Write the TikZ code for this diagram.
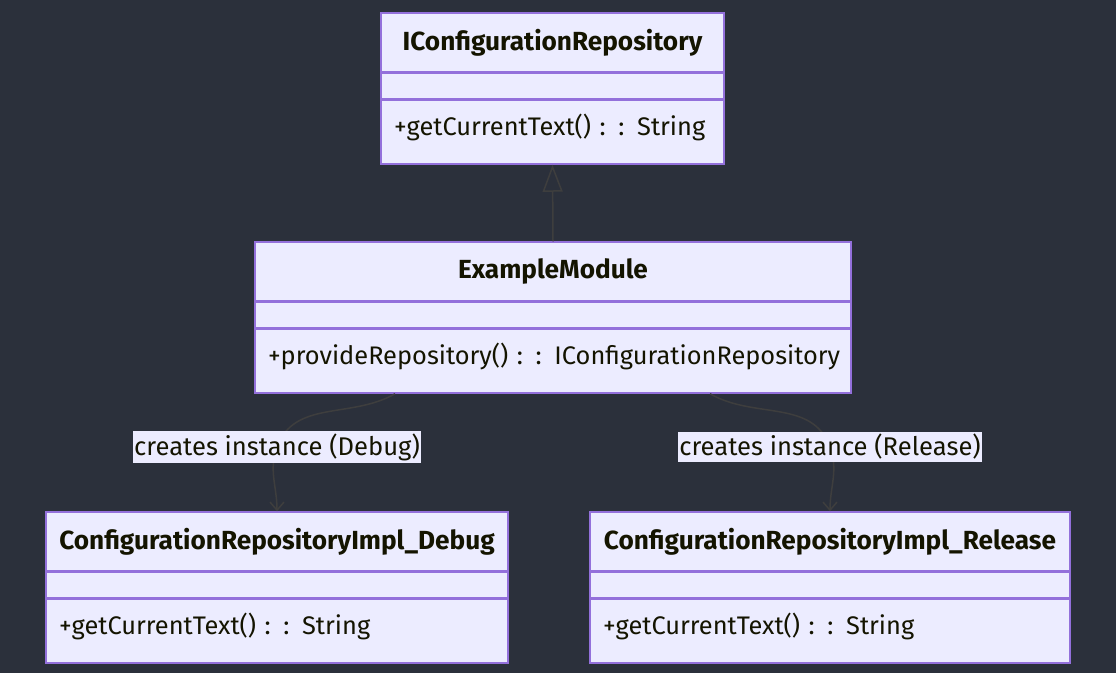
\documentclass[tikz,border=0pt]{standalone}
\usepackage{fontspec}
\setmainfont{Fira Sans}
\usetikzlibrary{positioning,arrows.meta}
\definecolor{bgdark}{RGB}{43,48,59}
\definecolor{boxfill}{RGB}{236,236,255}
\definecolor{boxline}{RGB}{147,112,219}
\definecolor{edgegray}{RGB}{62,62,62}
\definecolor{inkdark}{RGB}{20,20,0}
\tikzset{
  classbox/.style={draw=boxline, fill=boxfill, line width=1.5pt, inner sep=0pt, text=inkdark},
  classtitle/.style={classbox, minimum height=59pt, font=\bfseries\fontsize{26.2}{30}\selectfont},
  classattr/.style={classbox, minimum height=25pt},
  classmeth/.style={classbox, minimum height=64pt, align=left, inner xsep=13pt, text height=18pt, text depth=12pt, font=\fontsize{25.4}{29}\selectfont},
  edge/.style={draw=edgegray, line width=1.5pt},
  edgelabel/.style={fill=boxfill, inner xsep=1pt, inner ysep=2pt, text=inkdark, font=\fontsize{25.6}{29}\selectfont}
}
\begin{document}
\begin{tikzpicture}[x=1pt,y=-1pt]
\useasboundingbox[fill=bgdark] (0,0) rectangle (1116,673);
% interface
\node[classtitle, minimum width=343pt] (repoTitle) at (552.5,42.5) {IConfigurationRepository};
\node[classattr, minimum width=343pt, below=0pt of repoTitle] (repoAttr) {};
\node[classmeth, text width=317pt, below=0pt of repoAttr] (repoMeth) {\mbox{+getCurrentText() : : String}};
% module
\node[classtitle, minimum width=596pt] (modTitle) at (553,271.5) {ExampleModule};
\node[classattr, minimum width=596pt, below=0pt of modTitle] (modAttr) {};
\node[classmeth, text width=570pt, below=0pt of modAttr] (modMeth) {\mbox{+provideRepository() : : IConfigurationRepository}};
% debug impl
\node[classtitle, minimum width=462pt] (dbgTitle) at (277,541.5) {ConfigurationRepositoryImpl\_Debug};
\node[classattr, minimum width=462pt, below=0pt of dbgTitle] (dbgAttr) {};
\node[classmeth, text width=436pt, below=0pt of dbgAttr] (dbgMeth) {\mbox{+getCurrentText() : : String}};
% release impl
\node[classtitle, minimum width=480pt] (relTitle) at (830,541.5) {ConfigurationRepositoryImpl\_Release};
\node[classattr, minimum width=480pt, below=0pt of relTitle] (relAttr) {};
\node[classmeth, text width=454pt, below=0pt of relAttr] (relMeth) {\mbox{+getCurrentText() : : String}};
% edges
\draw[edge, -{Triangle[open, length=27pt, width=20pt]}] (modTitle.north) -- (repoMeth.south);
\coordinate (dbgFrom) at ([xshift=-158pt]modMeth.south);
\coordinate (relFrom) at ([xshift=157pt]modMeth.south);
\coordinate (dbgMid) at (277,447);
\coordinate (relMid) at (830,447);
\draw[edge, -{Straight Barb[length=8pt, width=14pt]}] (dbgFrom) to[out=-150, in=70] (dbgMid) to[out=-110, in=90] (dbgTitle.north);
\draw[edge, -{Straight Barb[length=8pt, width=14pt]}] (relFrom) to[out=-30, in=110] (relMid) to[out=-70, in=90] (relTitle.north);
\node[edgelabel] (dbgLabel) at (dbgMid) {creates instance (Debug)};
\node[edgelabel] (relLabel) at (relMid) {creates instance (Release)};
\end{tikzpicture}
\end{document}
